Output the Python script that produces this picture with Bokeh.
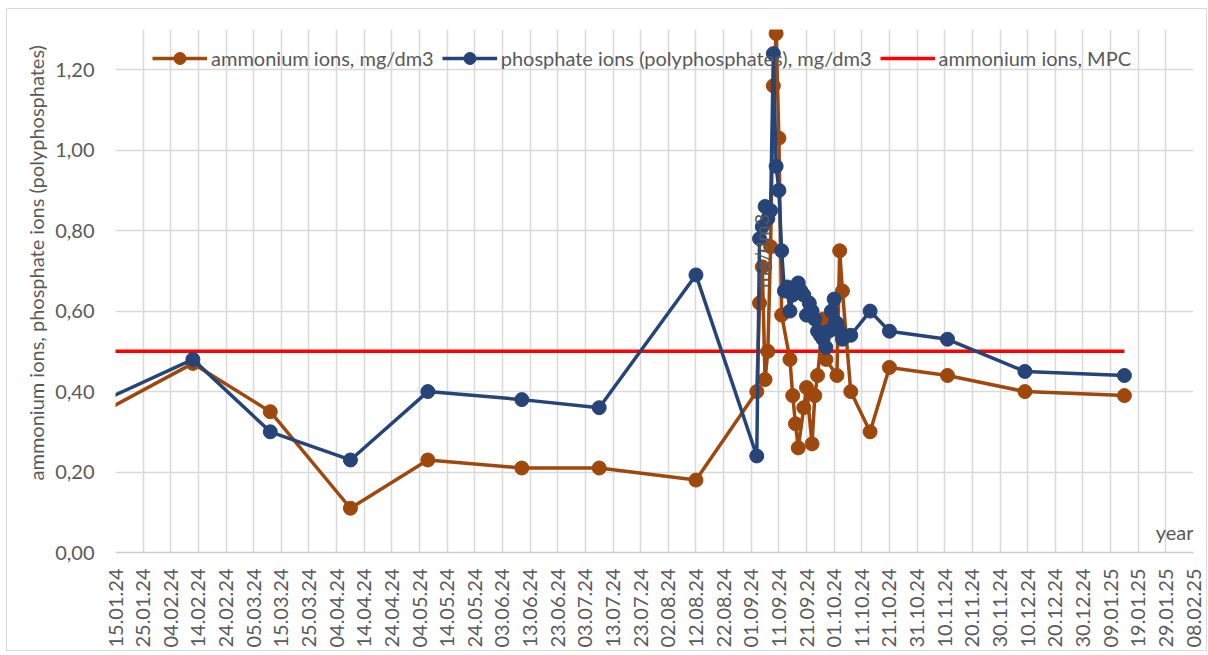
import math
from datetime import datetime

from bokeh.plotting import figure
from bokeh.models import (Range1d, FixedTicker, DatetimeTickFormatter, CustomJSTickFormatter,
                          Legend, LegendItem, Label, Title, ColumnDataSource)
from bokeh.embed import file_html
from bokeh.resources import INLINE

# ---------------- data ----------------
ammonium_dates = [
    "2024-01-05", "2024-02-12", "2024-03-11", "2024-04-09", "2024-05-07", "2024-06-10",
    "2024-07-08", "2024-08-12", "2024-09-03", "2024-09-04", "2024-09-05", "2024-09-06",
    "2024-09-07", "2024-09-08", "2024-09-09", "2024-09-10", "2024-09-11", "2024-09-12",
    "2024-09-15", "2024-09-16", "2024-09-17", "2024-09-18", "2024-09-20", "2024-09-21",
    "2024-09-23", "2024-09-24", "2024-09-25", "2024-09-27", "2024-09-28", "2024-10-02",
    "2024-10-03", "2024-10-04", "2024-10-07", "2024-10-14", "2024-10-21", "2024-11-11",
    "2024-12-09", "2025-01-14",
]
ammonium_values = [
    0.33, 0.47, 0.35, 0.11, 0.23, 0.21,
    0.21, 0.18, 0.40, 0.62, 0.71, 0.43,
    0.50, 0.76, 1.16, 1.29, 1.03, 0.59,
    0.48, 0.39, 0.32, 0.26, 0.36, 0.41,
    0.27, 0.39, 0.44, 0.58, 0.48, 0.44,
    0.75, 0.65, 0.40, 0.30, 0.46, 0.44,
    0.40, 0.39,
]

phosphate_dates = [
    "2024-01-05", "2024-02-12", "2024-03-11", "2024-04-09", "2024-05-07", "2024-06-10",
    "2024-07-08", "2024-08-12", "2024-09-03", "2024-09-04", "2024-09-05", "2024-09-06",
    "2024-09-07", "2024-09-08", "2024-09-09", "2024-09-10", "2024-09-11", "2024-09-12",
    "2024-09-13", "2024-09-14", "2024-09-15", "2024-09-16", "2024-09-17", "2024-09-18",
    "2024-09-19", "2024-09-20", "2024-09-21", "2024-09-22", "2024-09-23", "2024-09-24",
    "2024-09-25", "2024-09-26", "2024-09-27", "2024-09-28", "2024-09-29", "2024-09-30",
    "2024-10-01", "2024-10-02", "2024-10-03", "2024-10-04", "2024-10-07", "2024-10-14",
    "2024-10-21", "2024-11-11", "2024-12-09", "2025-01-14",
]
phosphate_values = [
    0.36, 0.48, 0.30, 0.23, 0.40, 0.38,
    0.36, 0.69, 0.24, 0.78, 0.81, 0.86,
    0.83, 0.85, 1.24, 0.96, 0.90, 0.75,
    0.65, 0.66, 0.60, 0.64, 0.66, 0.67,
    0.65, 0.64, 0.59, 0.62, 0.60, 0.58,
    0.55, 0.54, 0.53, 0.51, 0.55, 0.60,
    0.63, 0.57, 0.55, 0.53, 0.54, 0.60,
    0.55, 0.53, 0.45, 0.44,
]

mpc_dates = ["2024-01-05", "2025-01-14"]
mpc_values = [0.50, 0.50]

x_tick_labels = [
    "15.01.24", "25.01.24", "04.02.24", "14.02.24", "24.02.24", "05.03.24", "15.03.24",
    "25.03.24", "04.04.24", "14.04.24", "24.04.24", "04.05.24", "14.05.24", "24.05.24",
    "03.06.24", "13.06.24", "23.06.24", "03.07.24", "13.07.24", "23.07.24", "02.08.24",
    "12.08.24", "22.08.24", "01.09.24", "11.09.24", "21.09.24", "01.10.24", "11.10.24",
    "21.10.24", "31.10.24", "10.11.24", "20.11.24", "30.11.24", "10.12.24", "20.12.24",
    "30.12.24", "09.01.25", "19.01.25", "29.01.25", "08.02.25",
]
y_ticks = [0.0, 0.2, 0.4, 0.6, 0.8, 1.0, 1.2]

series_names = ["ammonium ions, mg/dm3",
                "phosphate ions (polyphosphates), mg/dm3",
                "ammonium ions, MPC"]
y_title = "ammonium ions, phosphate ions (polyphosphates)"
y_title2 = "mg/dm3"
x_title = "year"

# ---------------- helpers ----------------
FONT = "Lato"
GREY = "#595959"
GRID = "#D9D9D9"
BROWN = "#9E480E"
BLUE = "#264478"
RED = "#FF0000"


def iso(s):
    return datetime.strptime(s, "%Y-%m-%d")


def to_ms(dt):
    return (dt - datetime(1970, 1, 1)).total_seconds() * 1000.0


tick_dt = [datetime.strptime(s, "%d.%m.%y") for s in x_tick_labels]
x_start = to_ms(tick_dt[0])
x_end = to_ms(tick_dt[-1])
day_ms = 86400000.0

amm_src = ColumnDataSource(dict(x=[iso(s) for s in ammonium_dates], y=ammonium_values))
pho_src = ColumnDataSource(dict(x=[iso(s) for s in phosphate_dates], y=phosphate_values))
mpc_src = ColumnDataSource(dict(x=[iso(s) for s in mpc_dates], y=mpc_values))

p = figure(frame_width=1078, frame_height=523, x_axis_type="datetime",
           x_range=Range1d(x_start, x_end), y_range=Range1d(0, 1.3),
           output_backend="svg", toolbar_location=None,
           min_border_left=108, min_border_right=13, min_border_top=20, min_border_bottom=97,
           background_fill_color="white", border_fill_color="white",
           outline_line_color=None,
           styles={"border": "1px solid #D9D9D9", "margin": "8px 0px 0px 6px"})

# axes
p.xaxis.ticker = FixedTicker(ticks=[to_ms(t) for t in tick_dt])
fmt = "%d.%m.%y"
p.xaxis.formatter = DatetimeTickFormatter(days=fmt, months=fmt, years=fmt, hours=fmt,
                                          hourmin=fmt, minutes=fmt, minsec=fmt,
                                          seconds=fmt, milliseconds=fmt, microseconds=fmt)
p.xaxis.major_label_orientation = math.pi / 2
p.xaxis.major_label_text_font = FONT
p.xaxis.major_label_text_font_size = "20px"
p.xaxis.major_label_text_color = GREY
p.xaxis.major_tick_line_color = None
p.xaxis.minor_tick_line_color = None
p.xaxis.major_tick_out = 0
p.xaxis.minor_tick_out = 0
p.xaxis.axis_line_color = "#CFCFCF"
p.xaxis.axis_line_width = 1.5
p.xaxis.major_label_standoff = 16

p.yaxis.ticker = FixedTicker(ticks=y_ticks)
p.yaxis.formatter = CustomJSTickFormatter(code="return tick.toFixed(2).replace('.', ',');")
p.yaxis.major_label_text_font = FONT
p.yaxis.major_label_text_font_size = "20px"
p.yaxis.major_label_text_color = GREY
p.yaxis.axis_line_color = None
p.yaxis.major_tick_line_color = None
p.yaxis.minor_tick_line_color = None
p.yaxis.major_tick_out = 0
p.yaxis.minor_tick_out = 0
p.yaxis.major_label_standoff = 21

p.xgrid.grid_line_color = GRID
p.xgrid.grid_line_width = 1.5
p.ygrid.grid_line_color = GRID
p.ygrid.grid_line_width = 1.5

# series
r_mpc = p.line("x", "y", source=mpc_src, line_color=RED, line_width=3.5)
r_amm_l = p.line("x", "y", source=amm_src, line_color=BROWN, line_width=3.5)
r_amm_m = p.scatter("x", "y", source=amm_src, marker="circle", size=14,
                    fill_color=BROWN, line_color=BROWN)
r_pho_l = p.line("x", "y", source=pho_src, line_color=BLUE, line_width=3.5)
r_pho_m = p.scatter("x", "y", source=pho_src, marker="circle", size=14,
                    fill_color=BLUE, line_color=BLUE)

legend = Legend(items=[
    LegendItem(label=series_names[0], renderers=[r_amm_l, r_amm_m]),
    LegendItem(label=series_names[1], renderers=[r_pho_l, r_pho_m]),
    LegendItem(label=series_names[2], renderers=[r_mpc]),
], orientation="horizontal", location=(37, 479),
    background_fill_alpha=0, border_line_color=None,
    glyph_width=55, glyph_height=30, label_standoff=4, spacing=8,
    padding=0, margin=0,
    label_text_font=FONT, label_text_font_size="20px", label_text_color=GREY)
p.add_layout(legend)

# y axis title (two parts as in the original)
p.add_layout(Title(text=y_title, align="left", offset=72, standoff=10,
                   text_font=FONT, text_font_size="20px", text_font_style="normal",
                   text_color=GREY), "left")
p.add_layout(Label(x=x_start + 233.7 * day_ms, y=0.75, text=y_title2, angle=math.pi / 2,
                   text_align="center", text_baseline="middle", text_font=FONT,
                   text_font_size="20px", text_color=GREY))
p.add_layout(Label(x=x_end, y=0.05, text=x_title, text_align="right",
                   text_baseline="middle", text_font=FONT, x_offset=0,
                   text_font_size="20px", text_color=GREY))

open("out.html", "w").write(file_html(p, INLINE))
